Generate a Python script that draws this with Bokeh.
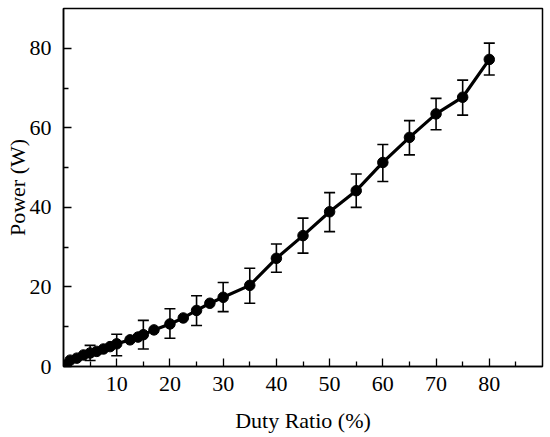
from bokeh.plotting import figure
from bokeh.models import Range1d, FixedTicker, ColumnDataSource, Whisker, TeeHead
from bokeh.embed import file_html
from bokeh.resources import INLINE

duty = [0.5, 1.25, 2.5, 3.75, 5, 6.25, 7.5, 8.75, 10, 12.5, 14, 15, 17, 20, 22.5, 25, 27.5, 30,
        35, 40, 45, 50, 55, 60, 65, 70, 75, 80]
power = [0.4, 1.6, 2.1, 2.9, 3.4, 3.8, 4.4, 5.0, 5.7, 6.7, 7.4, 8.0, 9.2, 10.7, 12.2, 14.1, 15.9, 17.4,
         20.4, 27.2, 32.9, 38.9, 44.2, 51.3, 57.6, 63.5, 67.7, 77.2]

err_duty = [5, 10, 15, 20, 25, 30, 35, 40, 45, 50, 55, 60, 65, 70, 75, 80]
err_low = [1.5, 2.7, 4.4, 7.1, 10.3, 13.8, 15.9, 23.7, 28.5, 33.9, 40.0, 46.5, 53.2, 59.5, 63.2, 73.3]
err_high = [5.3, 8.1, 11.6, 14.5, 17.8, 21.1, 24.7, 30.8, 37.3, 43.7, 48.4, 55.8, 61.8, 67.4, 72.0, 81.3]

x_ticks = [10, 20, 30, 40, 50, 60, 70, 80]
x_minor = [5, 15, 25, 35, 45, 55, 65, 75, 85]
y_ticks = [0, 20, 40, 60, 80]
y_minor = [10, 30, 50, 70]

FONT = "Liberation Serif"

p = figure(width=550, height=437, output_backend="svg", toolbar_location=None,
           x_range=Range1d(0, 90), y_range=Range1d(0, 90),
           min_border_top=8, min_border_right=8, min_border_left=63, min_border_bottom=71)

p.grid.visible = False
p.outline_line_color = "black"
p.outline_line_width = 1.5
p.background_fill_color = "white"
p.border_fill_color = "white"

for ax in (p.xaxis[0], p.yaxis[0]):
    ax.axis_line_width = 1.5
    ax.axis_line_color = "black"
    ax.major_tick_in = 8
    ax.major_tick_out = 0
    ax.minor_tick_in = 5
    ax.minor_tick_out = 0
    ax.major_tick_line_width = 1.3
    ax.minor_tick_line_width = 1.3
    ax.major_label_text_font = FONT
    ax.major_label_text_font_size = "22px"
    ax.major_label_text_color = "black"
    ax.axis_label_text_font = FONT
    ax.axis_label_text_font_size = "22px"
    ax.axis_label_text_font_style = "normal"
    ax.axis_label_text_color = "black"

p.xaxis.ticker = FixedTicker(ticks=x_ticks, minor_ticks=x_minor)
p.yaxis.ticker = FixedTicker(ticks=y_ticks, minor_ticks=y_minor)
p.xaxis.axis_label = "Duty Ratio (%)"
p.yaxis.axis_label = "Power (W)"
p.xaxis.major_label_standoff = 10
p.xaxis.axis_label_standoff = 14
p.yaxis.major_label_standoff = 12
p.yaxis.axis_label_standoff = -3

src = ColumnDataSource(dict(x=duty, y=power))
esrc = ColumnDataSource(dict(x=err_duty, lo=err_low, hi=err_high))

p.line("x", "y", source=src, line_color="black", line_width=3.2)
p.scatter("x", "y", source=src, size=10.5, fill_color="black", line_color="black")

w = Whisker(source=esrc, base="x", lower="lo", upper="hi", line_color="black", line_width=1.6,
            upper_head=TeeHead(size=11, line_color="black", line_width=1.6),
            lower_head=TeeHead(size=11, line_color="black", line_width=1.6))
p.add_layout(w)

open("out.html", "w").write(file_html(p, INLINE))
